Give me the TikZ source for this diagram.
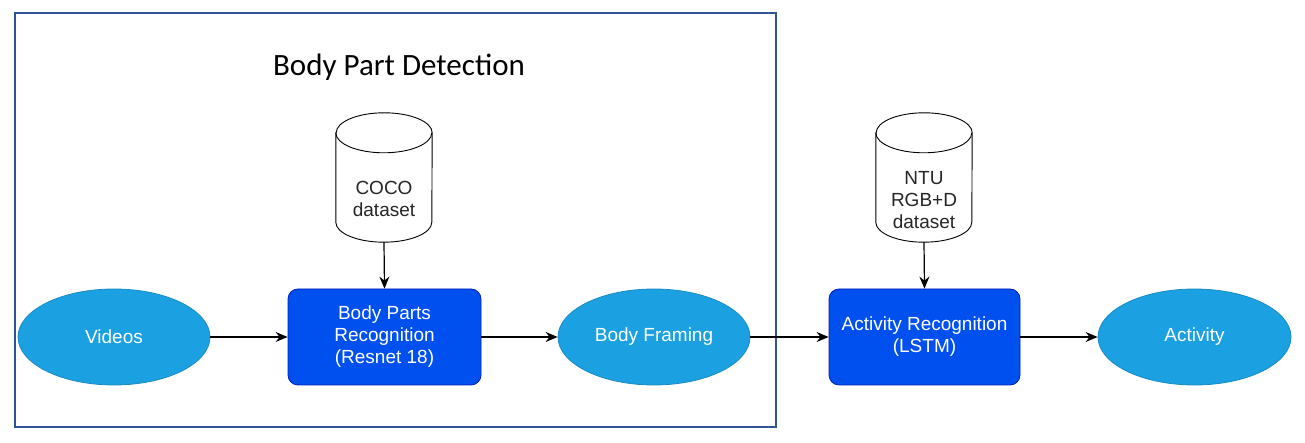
\documentclass[tikz,border=0pt]{standalone}
\usepackage{fontspec}
\setmainfont{Liberation Sans}
\newfontfamily\titlefont{Carlito}
\usetikzlibrary{arrows.meta,calc}
\definecolor{framecol}{HTML}{2F5597}
\definecolor{ellfill}{HTML}{1BA1E2}
\definecolor{elldraw}{HTML}{1A8BC4}
\definecolor{boxfill}{HTML}{0050EF}
\definecolor{boxdraw}{HTML}{001DBC}
\tikzset{
  ellnode/.style={ellipse, draw=elldraw, fill=ellfill, line width=0.8pt, minimum width=192pt, minimum height=96pt, inner sep=0pt, text=white, font=\fontsize{19}{22}\selectfont, align=center},
  procbox/.style={rectangle, rounded corners=10pt, draw=boxdraw, fill=boxfill, line width=0.8pt, minimum width=192pt, minimum height=96pt, inner sep=0pt, text=white, font=\fontsize{19}{22}\selectfont, align=center},
  cylframe/.style={rectangle, minimum width=96pt, minimum height=129pt, inner sep=0pt},
  cyltext/.style={text=black!85, font=\fontsize{19}{22}\selectfont, align=center},
  cylline/.style={draw=black, line width=0.9pt, fill=white},
  conn/.style={draw=black, line width=1.2pt, -{Stealth[length=12pt,width=10pt,inset=4pt]}},
}
\usetikzlibrary{shapes.geometric}
\begin{document}
\begin{tikzpicture}[x=1pt,y=1pt]
\useasboundingbox (0,0) rectangle (1305,443);
\fill[white] (0,0) rectangle (1305,443);
% frame
\draw[framecol, line width=2.6pt] (15,430) rectangle (776,16);
\node[font=\titlefont\fontsize{31}{34}\selectfont] (title) at (399,376) {Body Part Detection};
% cylinders
\node[cylframe] (coco) at (384,265.5) {};
\node[cylframe] (ntu) at (924,265.5) {};
\foreach \c in {coco,ntu}{
  \draw[cylline] ($(\c.north west)+(0,-20)$) -- ($(\c.south west)+(0,20)$)
     arc[start angle=180,end angle=360,x radius=48,y radius=20]
     -- ($(\c.north east)+(0,-20)$)
     arc[start angle=0,end angle=180,x radius=48,y radius=20] -- cycle;
  \draw[cylline, fill=none] ($(\c.north west)+(0,-20)$) arc[start angle=180,end angle=360,x radius=48,y radius=20];
}
\node[cyltext] (cocotext) at (384,244) {COCO\\dataset};
\node[cyltext] (ntutext) at (924,243) {NTU\\RGB+D\\dataset};
% main flow
\node[ellnode] (videos) at (114,106) {Videos};
\node[procbox, minimum width=193pt] (bpr) at (384.5,106) {Body Parts\\Recognition\\(Resnet 18)};
\node[ellnode] (framing) at (654,106) {Body Framing};
\node[procbox, minimum width=191pt] (ar) at (924.5,106) {Activity Recognition\\(LSTM)};
\node[ellnode, minimum width=193pt] (activity) at (1194.5,106) {Activity};
% connectors
\draw[conn] (videos) -- (bpr);
\draw[conn] (bpr) -- (framing);
\draw[conn] (framing) -- (ar);
\draw[conn] (ar) -- (activity);
\draw[conn] (coco.south) -- (bpr.north);
\draw[conn] (ntu.south) -- (ar.north);
\end{tikzpicture}
\end{document}
